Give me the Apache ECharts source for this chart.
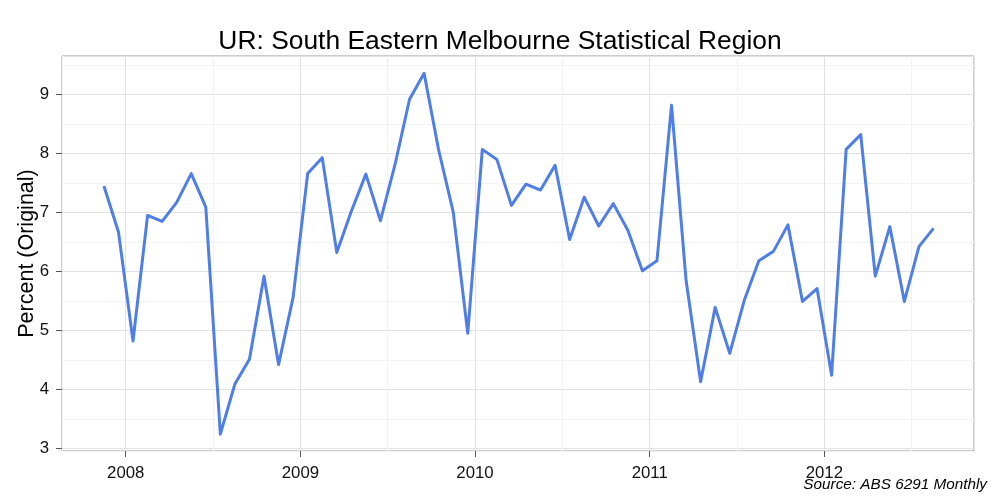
<!DOCTYPE html>
<html>
<head>
<meta charset="utf-8">
<script src="https://cdn.jsdelivr.net/npm/echarts@6/dist/echarts.min.js"></script>
<style>
  html, body { margin: 0; padding: 0; background: #fff; }
  #chart { width: 1000px; height: 500px; }
</style>
</head>
<body>
<div id="chart"></div>
<script>
// monthly observations, Nov 2007 - Aug 2012
var months = [
  '2007-11', '2007-12',
  '2008-01', '2008-02', '2008-03', '2008-04', '2008-05', '2008-06',
  '2008-07', '2008-08', '2008-09', '2008-10', '2008-11', '2008-12',
  '2009-01', '2009-02', '2009-03', '2009-04', '2009-05', '2009-06',
  '2009-07', '2009-08', '2009-09', '2009-10', '2009-11', '2009-12',
  '2010-01', '2010-02', '2010-03', '2010-04', '2010-05', '2010-06',
  '2010-07', '2010-08', '2010-09', '2010-10', '2010-11', '2010-12',
  '2011-01', '2011-02', '2011-03', '2011-04', '2011-05', '2011-06',
  '2011-07', '2011-08', '2011-09', '2011-10', '2011-11', '2011-12',
  '2012-01', '2012-02', '2012-03', '2012-04', '2012-05', '2012-06',
  '2012-07', '2012-08'
];
var rate = [
  7.45, 6.67,
  4.82, 6.95, 6.85, 7.17, 7.66, 7.09, 3.24, 4.09, 4.51, 5.92, 4.42, 5.56,
  7.66, 7.93, 6.32, 7.02, 7.65, 6.86, 7.81, 8.92, 9.36, 8.06, 7.01, 4.95,
  8.07, 7.90, 7.12, 7.48, 7.38, 7.80, 6.54, 7.26, 6.77, 7.15, 6.70, 6.01,
  6.18, 8.82, 5.85, 4.13, 5.39, 4.61, 5.51, 6.18, 6.34, 6.79, 5.49, 5.71,
  4.24, 8.07, 8.32, 5.92, 6.76, 5.49, 6.42, 6.73
];
var yearTicks = [2008, 2009, 2010, 2011, 2012];
var valueTicks = [3, 4, 5, 6, 7, 8, 9];

var FONT = 'Liberation Sans';
var gridLines = ['#f3f3f3', '#e2e2e2']; // minor, major

// place each month in the middle of its month on a decimal-year scale
function monthPos(m) {
  var p = m.split('-');
  return +p[0] + (+p[1] - 0.5) / 12;
}
var seriesData = months.map(function (m, i) { return [monthPos(m), rate[i]]; });

var xRange = [2007.635, 2012.857];
var yRange = [2.954, 9.654];

var myChart = echarts.init(document.getElementById('chart'));

var option = {
  animation: false,
  backgroundColor: '#fff',
  title: [
    {
      text: 'UR: South Eastern Melbourne Statistical Region',
      left: 'center',
      top: 24,
      textStyle: { fontFamily: FONT, fontSize: 26.4, fontWeight: 'normal', color: '#000' }
    },
    {
      text: 'Source: ABS 6291 Monthly',
      right: 8,
      bottom: 3,
      textStyle: { fontFamily: FONT, fontSize: 15.3, fontStyle: 'italic', fontWeight: 'normal', color: '#000' }
    }
  ],
  grid: {
    left: 62, right: 26, top: 56, bottom: 49,
    show: true,
    borderColor: '#9a9a9a',
    borderWidth: 1
  },
  xAxis: [
    {
      // grid lines only (half-year steps)
      type: 'value', min: xRange[0], max: xRange[1],
      splitNumber: 10, minInterval: 0.5, maxInterval: 0.5,
      axisLine: { show: false }, axisTick: { show: false }, axisLabel: { show: false },
      splitLine: { show: true, lineStyle: { color: gridLines, width: 1 } }
    },
    {
      type: 'value', min: xRange[0], max: xRange[1], position: 'bottom',
      axisLine: { show: false },
      splitLine: { show: false },
      axisTick: { show: true, customValues: yearTicks, length: 6, lineStyle: { color: '#555' } },
      axisLabel: {
        show: true, customValues: yearTicks, margin: 14,
        fontFamily: FONT, fontSize: 16.8, color: '#111',
        formatter: function (v) { return String(v); }
      }
    }
  ],
  yAxis: [
    {
      type: 'value', min: yRange[0], max: yRange[1],
      splitNumber: 13, minInterval: 0.5, maxInterval: 0.5,
      axisLine: { show: false }, axisTick: { show: false }, axisLabel: { show: false },
      splitLine: { show: true, lineStyle: { color: gridLines, width: 1 } }
    },
    {
      type: 'value', min: yRange[0], max: yRange[1], position: 'left',
      axisLine: { show: false },
      splitLine: { show: false },
      axisTick: { show: true, customValues: valueTicks, length: 6, lineStyle: { color: '#555' } },
      axisLabel: {
        show: true, customValues: valueTicks, margin: 13,
        fontFamily: FONT, fontSize: 16.8, color: '#111'
      },
      name: 'Percent (Original)',
      nameLocation: 'middle',
      nameRotate: 90,
      nameGap: 24,
      nameMoveOverlap: false,
      nameTextStyle: { fontFamily: FONT, fontSize: 21.5, color: '#000' }
    }
  ],
  series: [
    {
      type: 'line',
      xAxisIndex: 0,
      yAxisIndex: 0,
      data: seriesData,
      showSymbol: false,
      symbol: 'none',
      lineStyle: { color: '#4f7fe6', width: 3, join: 'round' },
      clip: true
    }
  ]
};

myChart.setOption(option);
</script>
</body>
</html>
